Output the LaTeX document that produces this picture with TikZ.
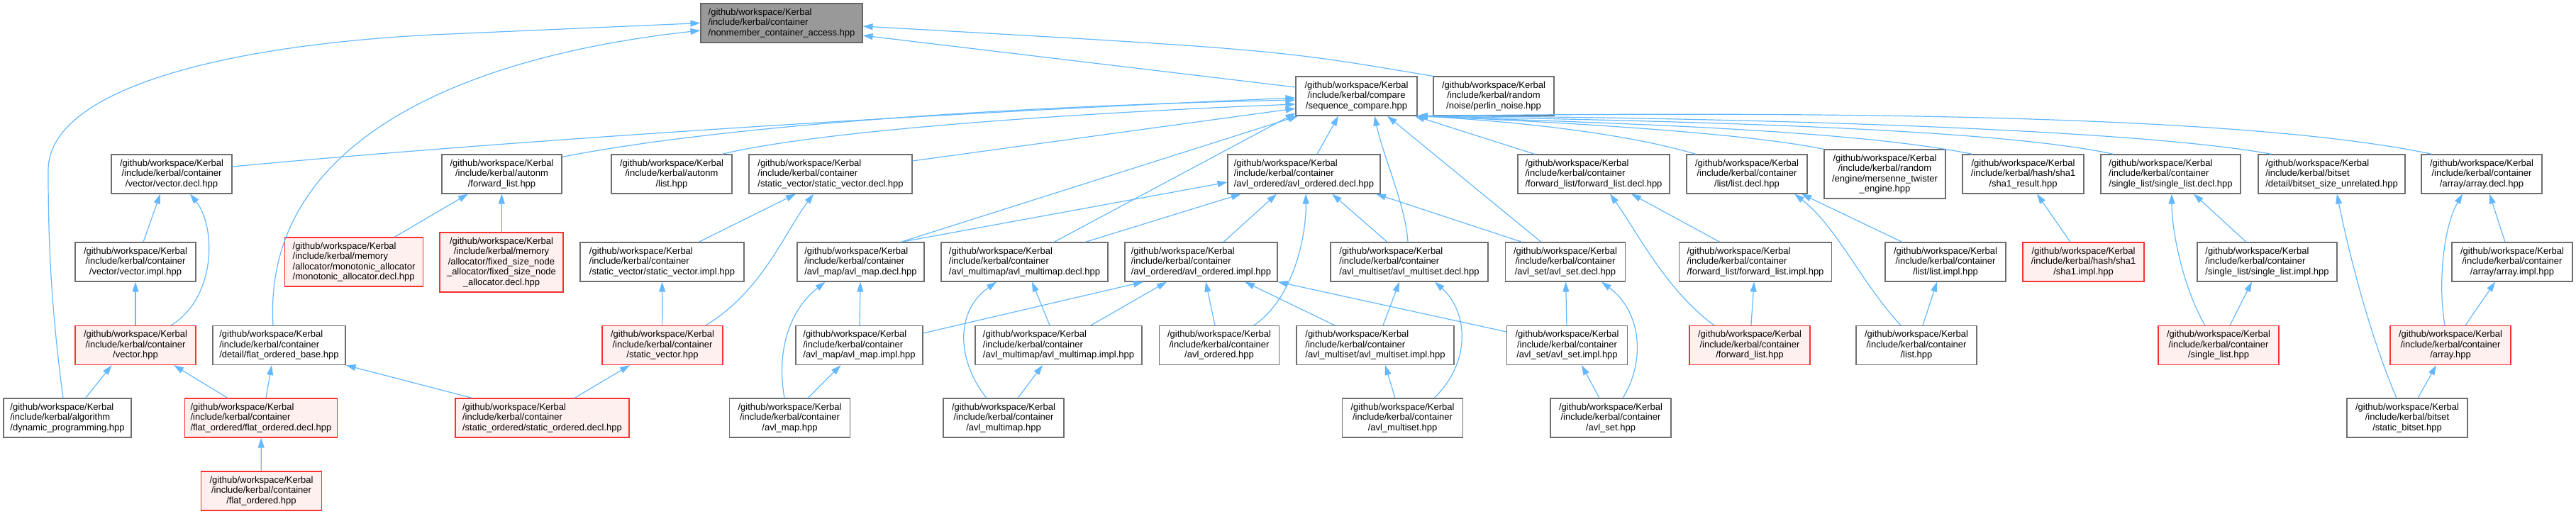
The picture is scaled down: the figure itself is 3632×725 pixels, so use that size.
\documentclass[tikz,border=0pt]{standalone}
\usepackage{fontspec}
\setmainfont{Liberation Sans}
\usepackage{tikz}
\usetikzlibrary{arrows.meta}
\definecolor{edgeblue}{HTML}{63B8FF}
\definecolor{boxgray}{HTML}{6E6E6E}
\definecolor{hotred}{HTML}{FF3030}
\definecolor{hotfill}{HTML}{FFF0F0}
\definecolor{rootfill}{HTML}{999999}
\definecolor{rootline}{HTML}{666666}
\newcommand{\kbi}{/github/workspace/Kerbal\\/include/kerbal}
\newcommand{\kbc}{\kbi/container}
\begin{document}
\begin{tikzpicture}[x=1pt,y=-1pt,
  n/.style={draw=boxgray,fill=white,line width=1.1pt,inner sep=0pt,minimum height=55pt,
            align=center,font=\fontsize{13}{14.5}\selectfont},
  nl/.style={n,align=left},
  hot/.style={draw=hotred,fill=hotfill},
  ar/.style={draw=edgeblue,line width=1.2pt,-{Triangle[length=14pt,width=9pt]}}]
\useasboundingbox (0,0) rectangle (3632,725);
% root and first row
\node[nl,draw=rootline,fill=rootfill,minimum width=228pt] (root) at (1102,32.5) {\kbc\\/nonmember\_container\_access.hpp};
\node[n,minimum width=171pt] (seqcmp) at (1912.5,135.5) {\kbi/compare\\/sequence\_compare.hpp};
\node[n,minimum width=170pt] (perlin) at (2106,135.5) {\kbi/random\\/noise/perlin\_noise.hpp};
% row 2
\node[n,minimum width=170pt]  (vecdecl) at (242,245.5)    {\kbc\\/vector/vector.decl.hpp};
\node[n,minimum width=169pt]  (afwd)    at (707.5,245.5)  {\kbi/autonm\\/forward\_list.hpp};
\node[n,minimum width=170pt]  (alist)   at (947,245.5)    {\kbi/autonm\\/list.hpp};
\node[nl,minimum width=230pt] (svdecl)  at (1171,245.5)   {\kbc\\/static\_vector/static\_vector.decl.hpp};
\node[nl,minimum width=215pt] (aodecl)  at (1838.5,245.5) {\kbc\\/avl\_ordered/avl\_ordered.decl.hpp};
\node[nl,minimum width=214pt] (fldecl)  at (2247,245.5)   {\kbc\\/forward\_list/forward\_list.decl.hpp};
\node[n,minimum width=170pt]  (lsdecl)  at (2463,245.5)   {\kbc\\/list/list.decl.hpp};
\node[n,minimum width=171pt,minimum height=69pt] (mt) at (2657.5,245.5) {\kbi/random\\/engine/mersenne\_twister\\\_engine.hpp};
\node[n,minimum width=171pt]  (sha1res) at (2852.5,245.5) {\kbi/hash/sha1\\/sha1\_result.hpp};
\node[nl,minimum width=197pt] (sldecl)  at (3060.5,245.5) {\kbc\\/single\_list/single\_list.decl.hpp};
\node[nl,minimum width=207pt] (bsu)     at (3287.5,245.5) {\kbi/bitset\\/detail/bitset\_size\_unrelated.hpp};
\node[n,minimum width=170pt]  (arrdecl) at (3499,245.5)   {\kbc\\/array/array.decl.hpp};
% row 3
\node[n,minimum width=170pt]  (vecimpl) at (191,369.5)    {\kbc\\/vector/vector.impl.hpp};
\node[nl,hot,minimum width=195pt,minimum height=69pt] (mono) at (499,369.5) {\kbi/memory\\/allocator/monotonic\_allocator\\/monotonic\_allocator.decl.hpp};
\node[n,hot,minimum width=174pt,minimum height=84pt] (fsna) at (707,370) {\kbi/memory\\/allocator/fixed\_size\_node\\\_allocator/fixed\_size\_node\\\_allocator.decl.hpp};
\node[nl,minimum width=231pt] (svimpl)  at (933.5,369.5)  {\kbc\\/static\_vector/static\_vector.impl.hpp};
\node[nl,minimum width=179pt] (amdecl)  at (1213.5,369.5) {\kbc\\/avl\_map/avl\_map.decl.hpp};
\node[nl,minimum width=235pt] (ammdecl) at (1444.5,369.5) {\kbc\\/avl\_multimap/avl\_multimap.decl.hpp};
\node[nl,minimum width=215pt] (aoimpl)  at (1693.5,369.5) {\kbc\\/avl\_ordered/avl\_ordered.impl.hpp};
\node[nl,minimum width=222pt] (amsdecl) at (1987,369.5)   {\kbc\\/avl\_multiset/avl\_multiset.decl.hpp};
\node[n,minimum width=169pt]  (asdecl)  at (2207,369.5)   {\kbc\\/avl\_set/avl\_set.decl.hpp};
\node[nl,minimum width=215pt] (flimpl)  at (2475,369.5)   {\kbc\\/forward\_list/forward\_list.impl.hpp};
\node[n,minimum width=170pt]  (lsimpl)  at (2743,369.5)   {\kbc\\/list/list.impl.hpp};
\node[n,hot,minimum width=171pt] (sha1impl) at (2937.5,369.5) {\kbi/hash/sha1\\/sha1.impl.hpp};
\node[nl,minimum width=197pt] (slimpl)  at (3196.5,369.5) {\kbc\\/single\_list/single\_list.impl.hpp};
\node[n,minimum width=170pt]  (arrimpl) at (3542,369.5)   {\kbc\\/array/array.impl.hpp};
% row 4
\node[n,hot,minimum width=170pt] (vechpp) at (191,487)    {\kbc\\/vector.hpp};
\node[nl,minimum width=187pt] (fob)     at (393.5,487)    {\kbc\\/detail/flat\_ordered\_base.hpp};
\node[n,hot,minimum width=170pt] (svhpp) at (934,487)     {\kbc\\/static\_vector.hpp};
\node[nl,minimum width=179pt] (amimpl)  at (1211.5,487)   {\kbc\\/avl\_map/avl\_map.impl.hpp};
\node[nl,minimum width=235pt] (ammimpl) at (1492.5,487)   {\kbc\\/avl\_multimap/avl\_multimap.impl.hpp};
\node[n,minimum width=169pt]  (aohpp)   at (1719,487)     {\kbc\\/avl\_ordered.hpp};
\node[nl,minimum width=222pt] (amsimpl) at (1939,487)     {\kbc\\/avl\_multiset/avl\_multiset.impl.hpp};
\node[n,minimum width=170pt]  (asimpl)  at (2209.5,487)   {\kbc\\/avl\_set/avl\_set.impl.hpp};
\node[n,hot,minimum width=170pt] (flhpp) at (2467,487)    {\kbc\\/forward\_list.hpp};
\node[n,minimum width=170pt]  (lshpp)   at (2702,487)     {\kbc\\/list.hpp};
\node[n,hot,minimum width=170pt] (slhpp) at (3128,487)    {\kbc\\/single\_list.hpp};
\node[n,hot,minimum width=170pt] (arrhpp) at (3455,487)   {\kbc\\/array.hpp};
% row 5
\node[nl,minimum width=180pt] (dp)      at (95,589.5)     {\kbi/algorithm\\/dynamic\_programming.hpp};
\node[nl,hot,minimum width=215pt] (fodecl) at (368,589.5) {\kbc\\/flat\_ordered/flat\_ordered.decl.hpp};
\node[nl,hot,minimum width=245pt] (sodecl) at (764.5,589.5) {\kbc\\/static\_ordered/static\_ordered.decl.hpp};
\node[n,minimum width=170pt]  (amhpp)   at (1113.5,589.5) {\kbc\\/avl\_map.hpp};
\node[n,minimum width=170pt]  (ammhpp)  at (1415,589.5)   {\kbc\\/avl\_multimap.hpp};
\node[n,minimum width=170pt]  (amshpp)  at (1977.5,589.5) {\kbc\\/avl\_multiset.hpp};
\node[n,minimum width=170pt]  (ashpp)   at (2271,589.5)   {\kbc\\/avl\_set.hpp};
\node[n,minimum width=170pt]  (sbs)     at (3394,589.5)   {\kbi/bitset\\/static\_bitset.hpp};
% row 6
\node[n,hot,minimum width=170pt] (fohpp) at (368.5,692.5) {\kbc\\/flat\_ordered.hpp};
% edges into the root
\draw[ar] ([xshift=-6pt]dp.north) .. controls (70,420) and (68,320) .. (68,240) .. controls (68,130) and (300,65) .. (610,49) -- (root.west);
\draw[ar] ([xshift=-8.5pt]fob.north) .. controls (370,200) and (650,80) .. ([yshift=-10.5pt]root.west);
\draw[ar] ([yshift=12.5pt]seqcmp.west) -- ([yshift=-17.5pt]root.east);
\draw[ar] (perlin.north west) .. controls (1800,70) .. ([yshift=-4.5pt]root.east);
% edges into sequence_compare
\draw[ar] ([yshift=10.5pt]vecdecl.east) .. controls (700,200) and (1300,160) .. ([yshift=-2.5pt]seqcmp.west);
\draw[ar] ([yshift=-4pt]afwd.north east) .. controls (1000,180) and (1400,150) .. ([yshift=-5.5pt]seqcmp.west);
\draw[ar] ([xshift=71pt]alist.north) .. controls (1150,185) and (1500,160) .. ([yshift=-11.5pt]seqcmp.west);
\draw[ar] ([yshift=18.5pt]svdecl.east) -- ([yshift=-17.5pt]seqcmp.west);
\draw[ar] ([xshift=41.5pt]ammdecl.north) -- ([yshift=-24pt]seqcmp.west);
\draw[ar] ([xshift=56.5pt]amdecl.north) -- ([xshift=4pt]seqcmp.south west);
\draw[ar] ([xshift=18.5pt]aodecl.north) -- ([xshift=-25.5pt]seqcmp.south);
\draw[ar] ([xshift=-2pt]amsdecl.north) .. controls (1982,290) and (1950,220) .. ([xshift=25.5pt]seqcmp.south);
\draw[ar] ([xshift=-34pt]asdecl.north) -- ([xshift=43.5pt]seqcmp.south);
\draw[ar] ([xshift=-83pt]fldecl.north) -- ([xshift=-4pt]seqcmp.south east);
\draw[ar] ([xshift=-72pt]lsdecl.north) .. controls (2300,190) and (2150,172) .. (seqcmp.south east);
\draw[ar] (mt.north west) .. controls (2450,185) and (2150,170) .. (seqcmp.south east);
\draw[ar] ([xshift=-71.5pt]sha1res.north) .. controls (2600,180) and (2200,172) .. (seqcmp.south east);
\draw[ar] ([xshift=-80.5pt]sldecl.north) .. controls (2800,178) and (2300,170) .. (seqcmp.south east);
\draw[ar] ([xshift=-84.5pt]bsu.north) .. controls (3000,180) and (2400,165) .. (seqcmp.south east);
\draw[ar] ([xshift=-70pt]arrdecl.north) .. controls (3150,158) and (2500,158) .. (seqcmp.south east);
% vector and flat_ordered
\draw[ar] ([xshift=11pt]vecimpl.north) -- ([xshift=-16pt]vecdecl.south);
\draw[ar] ([xshift=50pt]vechpp.north) .. controls (305,420) and (305,320) .. ([xshift=26pt]vecdecl.south);
\draw[ar] (vechpp) -- (vecimpl);
\draw[ar] ([xshift=25.6pt]dp.north) -- ([xshift=-33.4pt]vechpp.south);
\draw[ar] ([xshift=-47pt]fodecl.north) -- ([xshift=54pt]vechpp.south);
\draw[ar] ([xshift=7pt]fodecl.north) -- ([xshift=-10.5pt]fob.south);
\draw[ar] ([xshift=-98.5pt]sodecl.north) -- (fob.south east);
\draw[ar] (fohpp) -- (fodecl);
% allocators
\draw[ar] ([xshift=57pt]mono.north) -- ([xshift=-47.5pt]afwd.south);
\draw[ar] (fsna) -- (afwd);
% static_vector
\draw[ar] ([xshift=51.5pt]svimpl.north) -- ([xshift=-49pt]svdecl.south);
\draw[ar] ([xshift=61pt]svhpp.north) .. controls (1075,410) and (1105,330) .. ([xshift=-24pt]svdecl.south);
\draw[ar] (svhpp) -- (svimpl);
\draw[ar] ([xshift=45.5pt]sodecl.north) -- ([xshift=-46pt]svhpp.south);
% avl_map
\draw[ar] ([xshift=-7.5pt]amhpp.north) .. controls (1095,500) and (1110,440) .. ([xshift=-50pt]amdecl.south);
\draw[ar] (amimpl) -- (amdecl);
\draw[ar] ([xshift=25.5pt]amhpp.north) -- ([xshift=-26pt]amimpl.south);
\draw[ar] ([xshift=56.5pt]amdecl.north) -- ([yshift=-11.5pt]aodecl.west);
\draw[ar] ([yshift=17pt]amimpl.east) -- ([xshift=-81.5pt]aoimpl.south);
% avl_multimap
\draw[ar] ([xshift=-24pt]ammhpp.north) .. controls (1350,510) and (1345,440) .. ([xshift=-39.5pt]ammdecl.south);
\draw[ar] ([xshift=-12.5pt]ammimpl.north) -- ([xshift=10.5pt]ammdecl.south);
\draw[ar] ([xshift=20pt]ammhpp.north) -- ([xshift=-22.5pt]ammimpl.south);
\draw[ar] ([xshift=85.5pt]ammdecl.north) -- ([xshift=-88.5pt]aodecl.south);
\draw[ar] ([xshift=45.5pt]ammimpl.north) -- ([xshift=-48.5pt]aoimpl.south);
% avl_ordered
\draw[ar] ([xshift=31.5pt]aoimpl.north) -- ([xshift=-38.5pt]aodecl.south);
\draw[ar] ([xshift=49pt]aohpp.north) .. controls (1825,420) and (1842,330) .. ([xshift=2.5pt]aodecl.south);
\draw[ar] ([xshift=-6pt]aohpp.north) -- ([xshift=6.5pt]aoimpl.south);
% avl_multiset
\draw[ar] ([xshift=-31pt]amsdecl.north) -- ([xshift=39.5pt]aodecl.south);
\draw[ar] ([xshift=-57pt]amsimpl.north) -- ([xshift=61.5pt]aoimpl.south);
\draw[ar] ([xshift=11pt]amsimpl.north) -- ([xshift=-14pt]amsdecl.south);
\draw[ar] ([xshift=44.5pt]amshpp.north) .. controls (2075,510) and (2070,440) .. ([xshift=36pt]amsdecl.south);
\draw[ar] ([xshift=-10.5pt]amshpp.north) -- ([xshift=14pt]amsimpl.south);
% avl_set
\draw[ar] ([xshift=-61pt]asdecl.north) -- ([xshift=101.5pt]aodecl.south);
\draw[ar] ([yshift=19pt]asimpl.west) -- (aoimpl.south east);
\draw[ar] (asimpl) -- (asdecl);
\draw[ar] ([xshift=17pt]ashpp.north) .. controls (2320,510) and (2315,440) .. ([xshift=51pt]asdecl.south);
\draw[ar] ([xshift=-16pt]ashpp.north) -- ([xshift=20.5pt]asimpl.south);
% forward_list and list
\draw[ar] ([xshift=-50pt]flhpp.north) .. controls (2350,410) and (2310,330) .. ([xshift=23pt]fldecl.south);
\draw[ar] ([xshift=-50pt]flimpl.north) -- ([xshift=53pt]fldecl.south);
\draw[ar] (flhpp) -- (flimpl);
\draw[ar] ([xshift=-22pt]lshpp.north) .. controls (2625,400) and (2590,320) .. ([xshift=67pt]lsdecl.south);
\draw[ar] ([xshift=-61pt]lsimpl.north) -- ([xshift=77pt]lsdecl.south);
\draw[ar] ([xshift=9pt]lshpp.north) -- ([xshift=-12pt]lsimpl.south);
% sha1 and single_list
\draw[ar] ([xshift=-18.5pt]sha1impl.north) -- ([xshift=19.5pt]sha1res.south);
\draw[ar] ([xshift=-19pt]slhpp.north) .. controls (3080,410) and (3062,330) .. ([xshift=1.5pt]sldecl.south);
\draw[ar] ([xshift=-29.5pt]slimpl.north) -- ([xshift=32.5pt]sldecl.south);
\draw[ar] ([xshift=16pt]slhpp.north) -- ([xshift=-21.5pt]slimpl.south);
% bitset and array
\draw[ar] ([xshift=-15pt]sbs.north) .. controls (3340,470) and (3310,350) .. ([xshift=7.5pt]bsu.south);
\draw[ar] ([xshift=-8pt]arrhpp.north) .. controls (3437,400) and (3445,320) .. ([xshift=-27pt]arrdecl.south);
\draw[ar] ([xshift=-10pt]arrimpl.north) -- ([xshift=11pt]arrdecl.south);
\draw[ar] ([xshift=21pt]arrhpp.north) -- ([xshift=-24pt]arrimpl.south);
\draw[ar] ([xshift=15pt]sbs.north) -- ([xshift=-20pt]arrhpp.south);
\end{tikzpicture}
\end{document}
